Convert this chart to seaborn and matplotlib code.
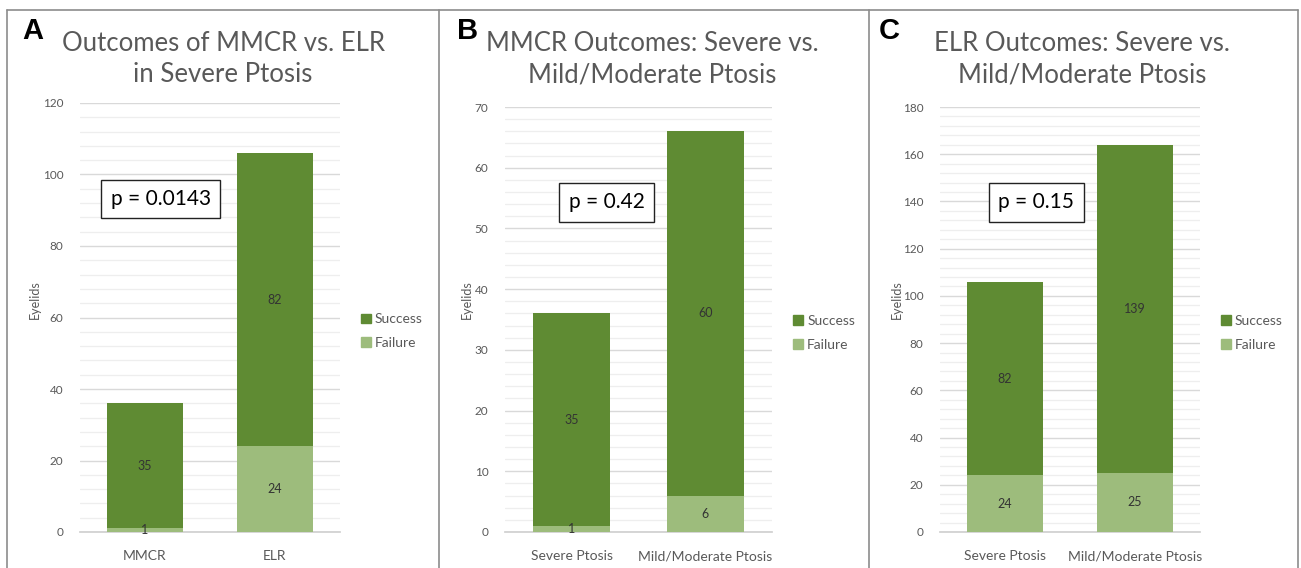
import numpy as np
import pandas as pd
import matplotlib.pyplot as plt
import seaborn as sns
from matplotlib.patches import Patch
from matplotlib.ticker import MultipleLocator

# data
cats_a = ["MMCR", "ELR"]
success_a = [35, 82]
failure_a = [1, 24]

cats_b = ["Severe Ptosis", "Mild/Moderate Ptosis"]
success_b = [35, 60]
failure_b = [1, 6]

cats_c = ["Severe Ptosis", "Mild/Moderate Ptosis"]
success_c = [82, 139]
failure_c = [24, 25]

titles = ["Outcomes of MMCR vs. ELR\nin Severe Ptosis",
          "MMCR Outcomes: Severe vs.\nMild/Moderate Ptosis",
          "ELR Outcomes: Severe vs.\nMild/Moderate Ptosis"]
letters = ["A", "B", "C"]
p_values = ["p = 0.0143", "p = 0.42", "p = 0.15"]
y_max = [120, 70, 180]
y_major = [20, 10, 20]

SUCCESS = "#5F8B33"
FAILURE = "#9DBC7C"
TEXT = "#595959"

sns.set_theme(style="white")
plt.rcParams["font.family"] = ["Lato", "DejaVu Sans"]

W, H = 1301, 568
fig = plt.figure(figsize=(W / 100, H / 100), dpi=100)

# axes boxes in pixels: left, right, y of top tick, y of zero
boxes = [(80, 340), (505, 772), (940, 1200)]
y_top_px, y_zero_px = 107, 532
title_x = [223, 652, 1082]
letter_x = [22, 457, 879]
ylabel_x = [35, 467, 897]
p_x = [0.31, 0.38, 0.37]

panels = [(cats_a, success_a, failure_a), (cats_b, success_b, failure_b),
          (cats_c, success_c, failure_c)]

for i, (cats, succ, fail) in enumerate(panels):
    left, right = boxes[i]
    ytop = 103 if i == 0 else y_top_px
    ax = fig.add_axes([left / W, (H - y_zero_px) / H, (right - left) / W,
                       (y_zero_px - ytop) / H])
    df = pd.DataFrame({"cat": cats, "success": succ, "failure": fail})
    df["total"] = df["success"] + df["failure"]

    sns.barplot(data=df, x="cat", y="total", color=SUCCESS, width=0.58,
                saturation=1, linewidth=0, ax=ax, zorder=3)
    sns.barplot(data=df, x="cat", y="failure", color=FAILURE, width=0.58,
                saturation=1, linewidth=0, ax=ax, zorder=3)

    for j, row in df.iterrows():
        ax.text(j, row["failure"] + row["success"] / 2, f"{row['success']}",
                ha="center", va="center", fontsize=9, color="#333333", zorder=4)
        ax.text(j, row["failure"] / 2, f"{row['failure']}",
                ha="center", va="center", fontsize=9, color="#333333", zorder=4)

    ax.set_xlim(-0.5, 1.5)
    ax.set_ylim(0, y_max[i])
    ax.yaxis.set_major_locator(MultipleLocator(y_major[i]))
    ax.yaxis.set_minor_locator(MultipleLocator(y_major[i] / 5))
    ax.grid(axis="y", which="major", color="#D9D9D9", lw=1, zorder=0)
    ax.grid(axis="y", which="minor", color="#EEEEEE", lw=0.9, zorder=0)
    for s in ["top", "right", "left"]:
        ax.spines[s].set_visible(False)
    ax.spines["bottom"].set_color("#D0D0D0")
    ax.tick_params(axis="y", which="both", length=0, pad=12, labelsize=8.5,
                   labelcolor=TEXT)
    ax.tick_params(axis="x", length=0, pad=13, labelsize=10, labelcolor=TEXT)
    ax.set_xlabel("")
    ax.set_ylabel("")

    ax.text(p_x[i], 0.776, p_values[i], transform=ax.transAxes, ha="center",
            va="center", fontsize=15, color="black", zorder=5,
            bbox=dict(boxstyle="square,pad=0.45", fc="white", ec="#222222", lw=1))

    handles = [Patch(color=SUCCESS, label="Success"),
               Patch(color=FAILURE, label="Failure")]
    ax.legend(handles=handles, loc="center left", bbox_to_anchor=(1.08, 0.468),
              frameon=False, fontsize=10, handlelength=0.7, handleheight=0.7,
              handletextpad=0.3, labelspacing=0.85, borderaxespad=0,
              borderpad=0, labelcolor=TEXT)

    fig.text(title_x[i] / W, 1 - 59 / H, titles[i], ha="center", va="center",
             fontsize=18.5, color=TEXT, linespacing=1.3)
    fig.text(letter_x[i] / W, 1 - 31 / H, letters[i], ha="left", va="center",
             fontsize=21, fontweight="bold", color="black",
             family=["Liberation Sans", "DejaVu Sans"])
    fig.text(ylabel_x[i] / W, 1 - 300 / H, "Eyelids", rotation=90, ha="center",
             va="center", fontsize=9, color=TEXT)

# panel frame lines
frame = dict(color="#8C8C8C", lw=1.2, transform=fig.transFigure)
fig.add_artist(plt.Line2D([7 / W, 1298 / W], [1 - 10 / H, 1 - 10 / H], **frame))
for xp in [7, 439, 869, 1298]:
    fig.add_artist(plt.Line2D([xp / W, xp / W], [0, 1 - 10 / H], **frame))

fig.savefig("out.png", dpi=100)
